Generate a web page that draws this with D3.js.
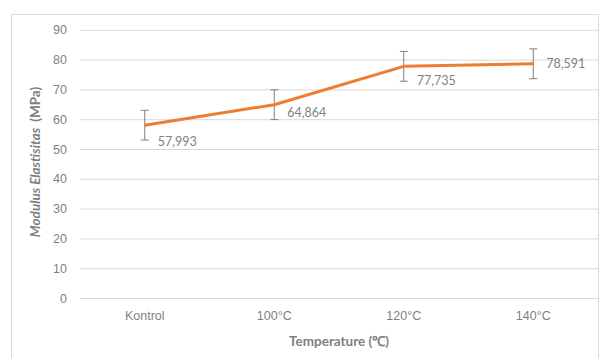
<!DOCTYPE html>
<html><head><meta charset="utf-8">
<script src="https://cdn.jsdelivr.net/npm/d3@7"></script>
<style>body{margin:0;background:#fff;}svg{display:block;font-family:Lato,"Open Sans",sans-serif;}</style>
</head><body><svg id="c" width="600" height="358"></svg>
<script>
const categories = ["Kontrol","100\u00B0C","120\u00B0C","140\u00B0C"];
const values = [57.993, 64.864, 77.735, 78.591];
const errors = [5.0, 5.0, 5.0, 5.0];
const valueLabels = ["57,993","64,864","77,735","78,591"];
const yTicks = [0,10,20,30,40,50,60,70,80,90];
const labelDy = [16, 8, 14, 0];

const svg = d3.select("#c");
svg.append("rect").attr("x",11.5).attr("y",14.5).attr("width",587).attr("height",360)
  .attr("fill","#fff").attr("stroke","#d9d9d9");

const x = d3.scaleBand().domain(categories).range([80,598]);
const y = d3.scaleLinear().domain([0,90]).range([298,29.8]);

const yAxis = svg.append("g").attr("transform","translate(80,0)")
  .call(d3.axisLeft(y).tickValues(yTicks).tickSize(-518).tickPadding(13));
yAxis.select(".domain").remove();
yAxis.selectAll("line").attr("stroke","#d9d9d9");
yAxis.selectAll("text").attr("fill","#7f7f7f").style("font-size","12.5px");

const xAxis = svg.append("g").attr("transform","translate(0,298)")
  .call(d3.axisBottom(x).tickSize(0).tickPadding(13));
xAxis.select(".domain").attr("stroke","#d9d9d9");
xAxis.selectAll("text").attr("fill","#7f7f7f").style("font-size","12.5px");

const cx = d => x(d) + x.bandwidth()/2;

// error bars
const eb = svg.append("g").attr("stroke","#7f7f7f").attr("stroke-width",1);
categories.forEach((c,i)=>{
  const xc = cx(c);
  eb.append("line").attr("x1",xc).attr("x2",xc).attr("y1",y(values[i]+errors[i])).attr("y2",y(values[i]-errors[i]));
  eb.append("line").attr("x1",xc-4).attr("x2",xc+4).attr("y1",y(values[i]+errors[i])).attr("y2",y(values[i]+errors[i]));
  eb.append("line").attr("x1",xc-4).attr("x2",xc+4).attr("y1",y(values[i]-errors[i])).attr("y2",y(values[i]-errors[i]));
});

const line = d3.line().x((d,i)=>cx(categories[i])).y(d=>y(d));
svg.append("path").datum(values).attr("d",line).attr("fill","none")
  .attr("stroke","#ED7D31").attr("stroke-width",3).attr("stroke-linejoin","round");

svg.append("g").selectAll("text").data(values).join("text")
  .attr("x",(d,i)=>cx(categories[i])+13).attr("y",(d,i)=>y(d)+labelDy[i])
  .attr("dy","0.35em").attr("fill","#7f7f7f").style("font-size","12.5px")
  .text((d,i)=>valueLabels[i]);

svg.append("text").attr("x",339).attr("y",341).attr("dy","0.35em").attr("text-anchor","middle")
  .attr("fill","#7f7f7f").style("font-size","13.5px").style("font-weight","bold")
  .text("Temperature (\u2103)");
const yt = svg.append("text").attr("transform","translate(35,162) rotate(-90)").attr("dy","0.35em")
  .attr("text-anchor","middle").attr("fill","#7f7f7f").style("font-size","13.5px")
  .style("font-weight","bold").style("white-space","pre");
yt.append("tspan").style("font-style","italic").text("Modulus Elastisitas  ");
yt.append("tspan").text("(MPa)");
</script></body></html>
